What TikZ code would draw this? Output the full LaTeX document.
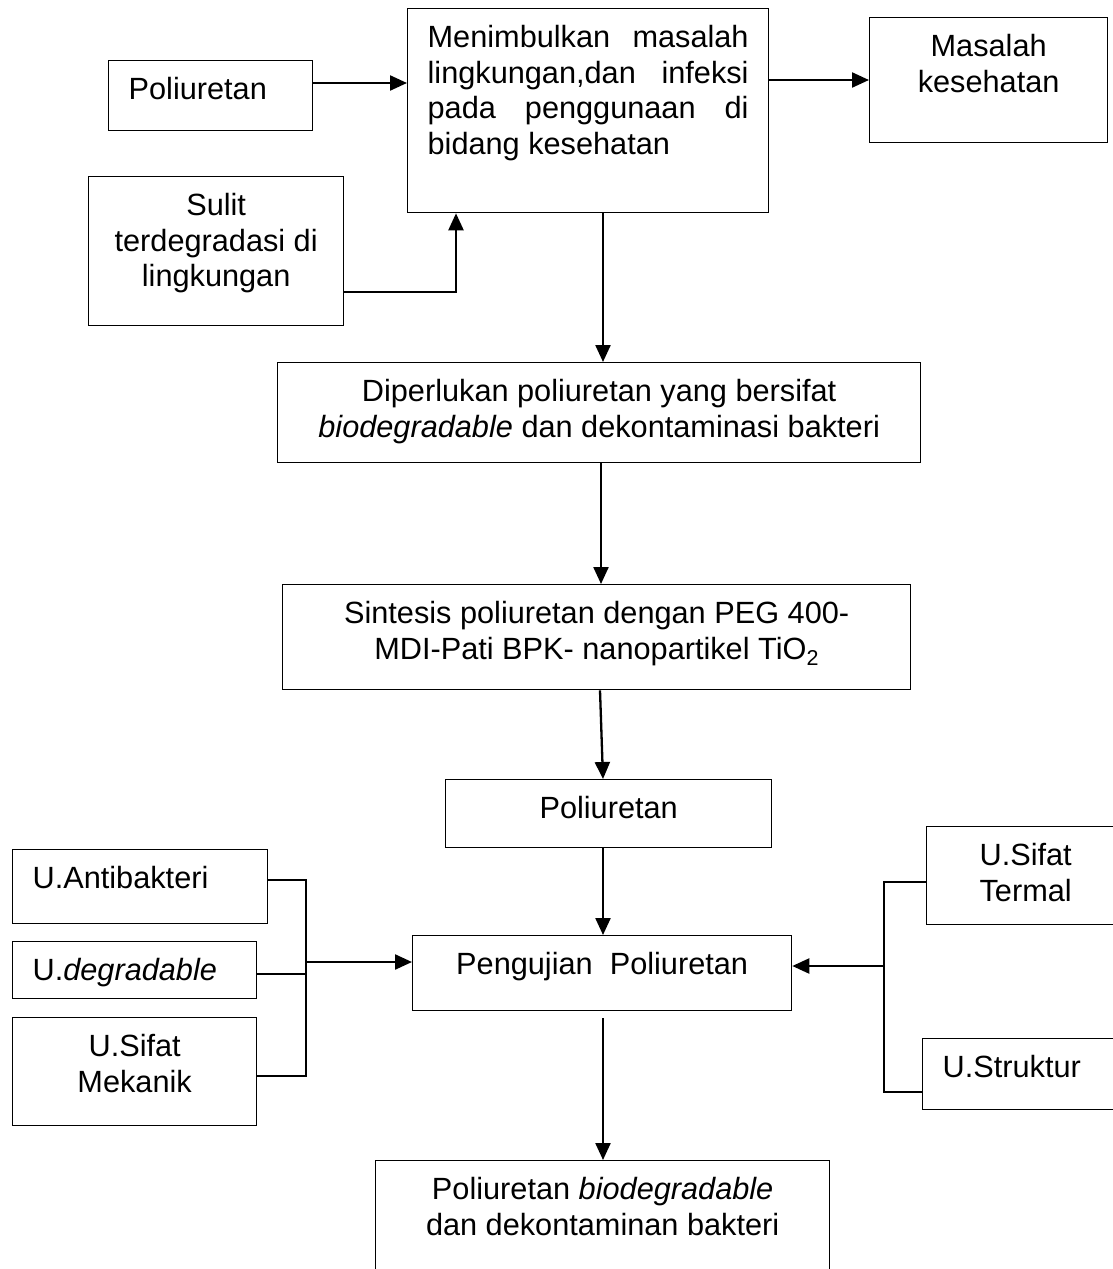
\documentclass[tikz,border=0pt]{standalone}
\usepackage{fontspec}
\setmainfont{Liberation Sans}
\usetikzlibrary{arrows.meta,calc}
% isi kotak: lebar, tinggi, perataan, teks
\newcommand{\isi}[4]{\parbox[t][#2pt][t]{\dimexpr#1pt-40pt\relax}{\vspace*{17pt}#3#4}}
\tikzset{
    kotak/.style={draw, line width=1.3pt, inner xsep=20pt, inner ysep=0pt, anchor=north west}, % kotak teks
    panah/.style={line width=2.3pt, -{Triangle[length=17pt,width=15pt]}}, % garis berpanah
    garis/.style={line width=1.5pt},
}
\begin{document}
\begin{tikzpicture}[x=1pt,y=-1pt,every node/.style={font=\fontsize{30.7}{35.5}\selectfont}]
    \clip (0,0) rectangle (1113,1269);
    \node[kotak] (men) at (407,8) {\isi{361}{204}{}{%
        \makebox[\linewidth][s]{Menimbulkan masalah}\\
        \makebox[\linewidth][s]{lingkungan,dan infeksi}\\
        \makebox[\linewidth][s]{pada penggunaan di}\\
        bidang kesehatan}};
    \node[kotak] (pol1) at (108,60) {\isi{204}{70}{\raggedright}{Poliuretan}};
    \node[kotak] (mas) at (869,17) {\isi{238}{125}{\centering}{Masalah\\kesehatan}};
    \node[kotak] (sulit) at (88,176) {\isi{255}{149}{\centering}{Sulit\\terdegradasi di\\lingkungan}};
    \node[kotak] (dip) at (277,362) {\isi{643}{100}{\centering}{Diperlukan poliuretan yang bersifat\\\textit{biodegradable} dan dekontaminasi bakteri}};
    \node[kotak] (sin) at (282,584) {\isi{628}{105}{\centering}{Sintesis poliuretan dengan PEG 400-\\MDI-Pati BPK- nanopartikel TiO\textsubscript{2}}};
    \node[kotak] (pol2) at (445,779) {\isi{326}{68}{\centering}{Poliuretan}};
    \node[kotak] (anti) at (12,849) {\isi{255}{74}{\raggedright}{U.Antibakteri}};
    \node[kotak] (deg) at (12,941) {\isi{244}{57}{\raggedright}{U.\textit{degradable}}};
    \node[kotak] (mek) at (12,1017) {\isi{244}{108}{\centering}{U.Sifat\\Mekanik}};
    \node[kotak] (peng) at (412,935) {\isi{379}{75}{\centering}{Pengujian\ \ Poliuretan}};
    \node[kotak] (term) at (926,826) {\isi{198}{98}{\centering}{U.Sifat\\Termal}};
    \node[kotak] (str) at (922,1038) {\isi{200}{71}{\raggedright}{U.Struktur}};
    \node[kotak] (fin) at (375,1160) {\isi{454}{130}{\centering}{Poliuretan \textit{biodegradable}\\dan dekontaminan bakteri}};

    \coordinate (kiri) at (306,962);
    \coordinate (kanan) at (884,966);

    \draw[panah] (pol1.east |- 0,83) -- (men.west |- 0,83);
    \draw[panah] (men.east |- 0,80) -- (mas.west |- 0,80);
    \draw[panah] (sulit.east |- 0,292) -| (456,0 |- men.south);
    \draw[panah] (603,0 |- men.south) -- (603,0 |- dip.north);
    \draw[panah] (601,0 |- dip.south) -- (601,0 |- sin.north);
    \draw[panah] (600,0 |- sin.south) -- (603,0 |- pol2.north);
    \draw[panah] (603,0 |- pol2.south) -- (603,0 |- peng.north);
    \draw[panah] ([yshift=-7pt]603,0 |- peng.south) -- (603,0 |- fin.north);

    \draw[garis] (anti.east |- 0,880) -| (kiri) |- (mek.east |- 0,1076);
    \draw[garis] (deg.east |- 0,974) -- (kiri |- 0,974);
    \draw[panah] (kiri) -- (peng.west |- kiri);

    \draw[garis] (term.west |- 0,882) -| (kanan) |- (str.west |- 0,1092);
    \draw[panah] (kanan) -- (peng.east |- kanan);
\end{tikzpicture}
\end{document}
